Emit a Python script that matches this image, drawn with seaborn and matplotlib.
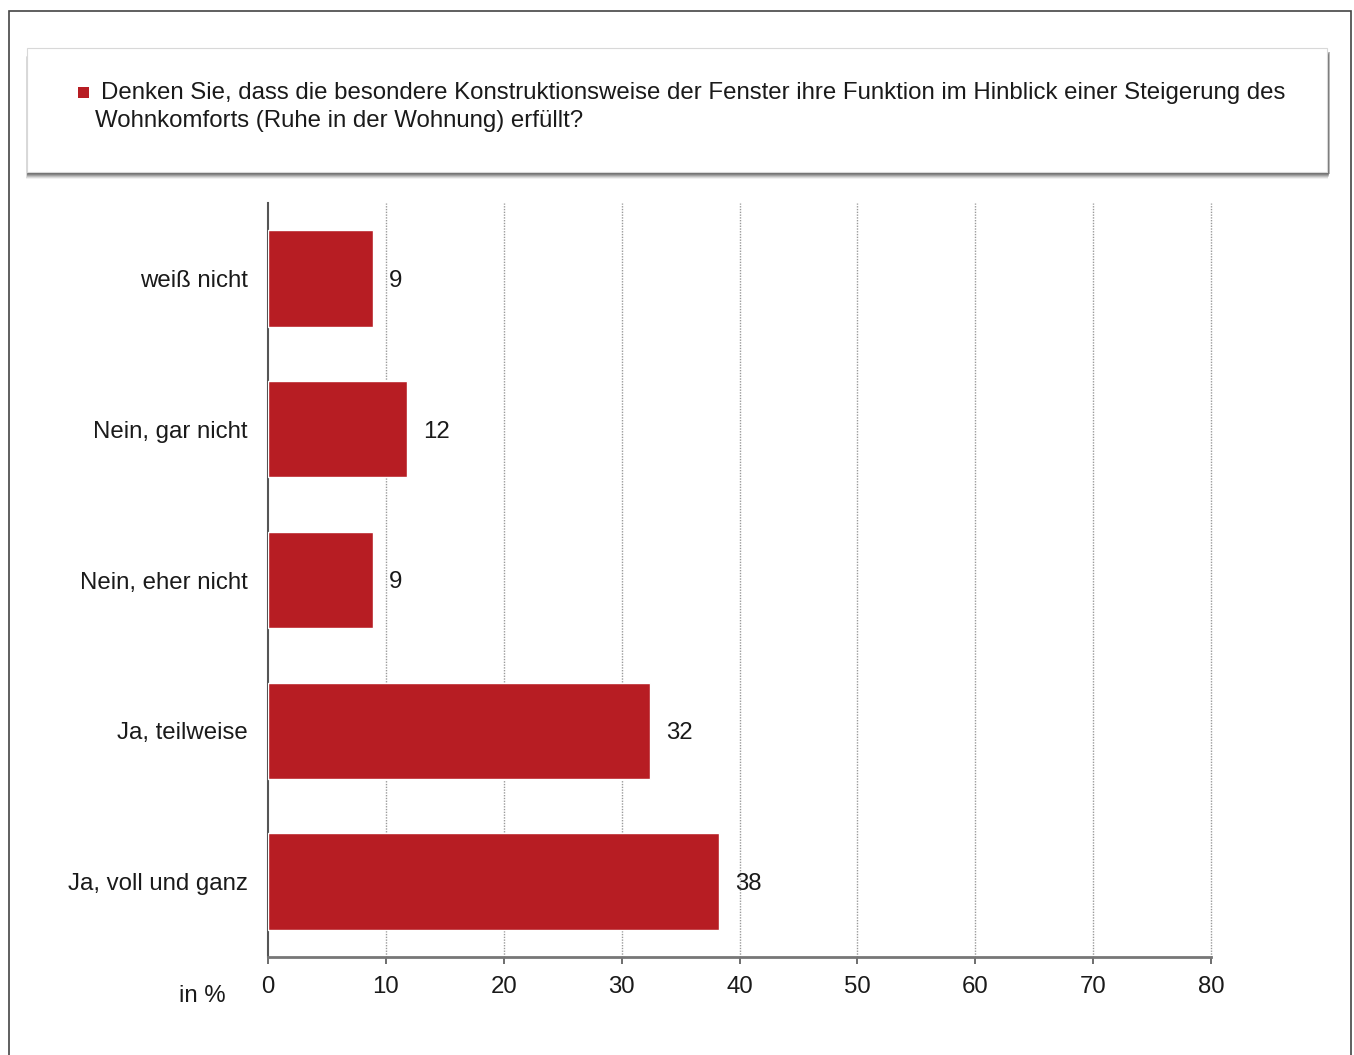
import matplotlib
matplotlib.use("Agg")
import matplotlib.pyplot as plt
from matplotlib.patches import Rectangle
import pandas as pd
import seaborn as sns

# Survey answers and shares in percent
categories = ["weiß nicht", "Nein, gar nicht", "Nein, eher nicht", "Ja, teilweise", "Ja, voll und ganz"]
shares = [8.9, 11.8, 8.9, 32.4, 38.3]
x_ticks = [0, 10, 20, 30, 40, 50, 60, 70, 80]
question = ("Denken Sie, dass die besondere Konstruktionsweise der Fenster ihre Funktion im Hinblick einer Steigerung des",
            "Wohnkomforts (Ruhe in der Wohnung) erfüllt?")
unit_label = "in %"

BAR_RED = "#B71D23"
TEXT = "#1a1a1a"
FS = 17.3

sns.set_style("white")
plt.rcParams["font.family"] = ["Liberation Sans", "DejaVu Sans"]

W, H = 1354, 1055
fig = plt.figure(figsize=(W / 100, H / 100), dpi=100)

def fx(px):
    return px / W

def fy(py):
    return 1 - py / H

# outer frame
fig.patches.append(Rectangle((fx(9), fy(1070)), fx(1351) - fx(9), fy(11) - fy(1070),
                             transform=fig.transFigure, fill=False, edgecolor="#444444",
                             linewidth=1.2, zorder=0))

# legend panel with soft drop shadow
for i, a in enumerate([0.08, 0.14, 0.20, 0.28, 0.36, 0.42]):
    off = 7 - i
    fig.patches.append(Rectangle((fx(26 + i * 0.3), fy(172 + off)), fx(1328) - fx(26),
                                 fy(50) - fy(172), transform=fig.transFigure,
                                 facecolor="#555555", edgecolor="none", alpha=a, zorder=1))
fig.patches.append(Rectangle((fx(27), fy(172)), fx(1327) - fx(27), fy(48) - fy(172),
                             transform=fig.transFigure, facecolor="white",
                             edgecolor="#d8d8d8", linewidth=0.8, zorder=2))
fig.patches.append(Rectangle((fx(78), fy(98)), fx(89) - fx(78), fy(87) - fy(98),
                             transform=fig.transFigure, facecolor=BAR_RED,
                             edgecolor="none", zorder=3))
fig.text(fx(101), fy(93.5), question[0], fontsize=FS, color=TEXT, va="center", ha="left", zorder=4)
fig.text(fx(95), fy(121.5), question[1], fontsize=FS, color=TEXT, va="center", ha="left", zorder=4)

ax = fig.add_axes([fx(268), fy(957), fx(1211) - fx(268), fy(203) - fy(957)])
df = pd.DataFrame({"Antwort": categories, "Anteil": shares})
sns.barplot(data=df, x="Anteil", y="Antwort", orient="h", color=BAR_RED,
            saturation=1, width=0.64, ax=ax, zorder=3)

for i, v in enumerate(shares):
    ax.annotate(f"{v:.0f}", xy=(v, i), xytext=(11.5, 0), textcoords="offset points",
                ha="left", va="center_baseline", fontsize=FS, color=TEXT, zorder=4)

ax.set_xlim(0, 80)
ax.set_ylim(4.5, -0.5)
ax.set_xticks(x_ticks)
ax.set_xticklabels([str(t) for t in x_ticks])
ax.set_xlabel("")
ax.set_ylabel("")

for t in x_ticks[1:]:
    ax.axvline(t, color="#9a9a9a", linewidth=1.0, linestyle=(0, (1, 1)), zorder=1,
               clip_on=False)

for s in ["top", "right"]:
    ax.spines[s].set_visible(False)
ax.spines["left"].set_color("#555555")
ax.spines["left"].set_linewidth(1.5)
ax.spines["bottom"].set_color("#777777")
ax.spines["bottom"].set_linewidth(2)

ax.tick_params(axis="x", bottom=True, length=5, width=1.2, color="#555555",
               pad=9, labelsize=FS, labelcolor=TEXT)
ax.tick_params(axis="y", left=False, pad=11, labelsize=FS, labelcolor=TEXT)

fig.text(fx(202), fy(996), unit_label, fontsize=FS, color=TEXT, ha="center", va="center")

fig.savefig("out.png", dpi=100)
